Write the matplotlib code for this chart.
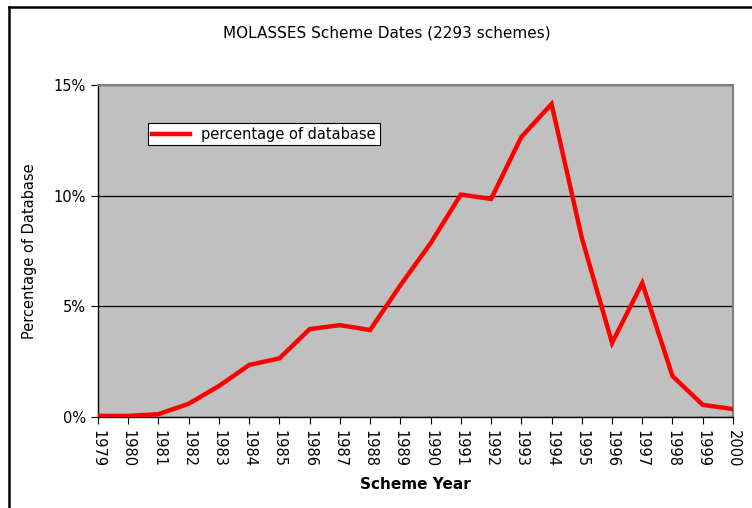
import matplotlib.pyplot as plt
from matplotlib.lines import Line2D
from matplotlib.ticker import FuncFormatter

# scheme counts per year as percentage of the whole database
years = list(range(1979, 2001))
pct = [0.05, 0.05, 0.13, 0.6, 1.4, 2.35, 2.65, 3.97, 4.15, 3.93, 5.95,
       7.85, 10.05, 9.85, 12.65, 14.14, 8.1, 3.35, 6.05, 1.85, 0.55, 0.36]

fig = plt.figure(figsize=(7.52, 5.08), dpi=100)
ax = fig.add_axes([0.1303, 0.1791, 0.8444, 0.6536])
ax.set_facecolor('#C0C0C0')

ax.plot(years, pct, color='#FF0000', lw=3.2, solid_joinstyle='miter',
        label='percentage of database', zorder=3)

ax.set_xlim(1979, 2000)
ax.set_ylim(0, 15)
ax.set_xticks(years)
ax.set_xticklabels([str(y) for y in years], rotation=270, fontsize=10.5)
ax.set_yticks([0, 5, 10, 15])
ax.yaxis.set_major_formatter(FuncFormatter(lambda v, p: '%d%%' % v))
ax.tick_params(axis='y', labelsize=10.5, length=5, direction='out')
ax.tick_params(axis='x', length=5, direction='out', pad=4)
ax.grid(axis='y', color='black', lw=0.9, zorder=1)
ax.set_axisbelow(True)

for side in ['top', 'right']:
    ax.spines[side].set_color('#808080')
    ax.spines[side].set_linewidth(1.5)
for side in ['left', 'bottom']:
    ax.spines[side].set_color('black')
    ax.spines[side].set_linewidth(1.0)

ax.set_xlabel('Scheme Year', fontsize=11, fontweight='bold', labelpad=7)
ax.set_ylabel('Percentage of Database', fontsize=10.5, labelpad=12)
fig.text(0.514, 0.935, 'MOLASSES Scheme Dates (2293 schemes)', ha='center',
         va='center', fontsize=11)

leg = ax.legend(loc='upper left', bbox_to_anchor=(0.079, 0.885), fontsize=10.5,
                frameon=True, fancybox=False, framealpha=1, edgecolor='black',
                handlelength=2.6, borderpad=0.25, borderaxespad=0)
leg.get_frame().set_linewidth(0.8)

# chart frame along the top and left edges
fig.add_artist(Line2D([0.012, 0.012], [0, 0.986], color='black', lw=1.8,
                      transform=fig.transFigure))
fig.add_artist(Line2D([0.012, 1.0], [0.986, 0.986], color='black', lw=1.8,
                      transform=fig.transFigure))

fig.savefig('out.png', dpi=100)
